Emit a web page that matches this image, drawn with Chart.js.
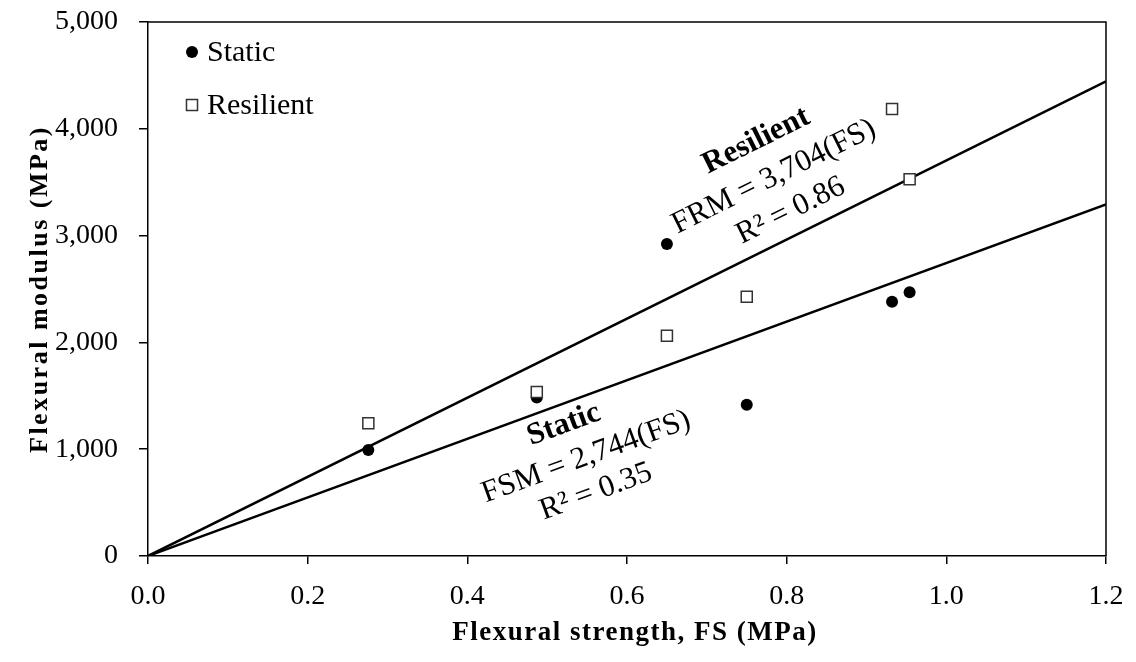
<!DOCTYPE html>
<html>
<head>
<meta charset="utf-8">
<title>Flexural modulus vs flexural strength</title>
<script src="https://cdn.jsdelivr.net/npm/chart.js@4.4.1/dist/chart.umd.min.js"></script>
<style>
    body { margin: 0; background: #fff; }
    #wrap { width: 1136px; height: 662px; }
</style>
</head>
<body>
<div id="wrap"><canvas id="flexChart" width="1136" height="662"></canvas></div>
<script>
// flexural strength of each specimen (MPa)
const strength = [0.276, 0.487, 0.650, 0.750, 0.932, 0.954];
// measured moduli (MPa)
const staticModulus = [993, 1485, 2921, 1417, 2381, 2469];
const resilientModulus = [1242, 1535, 2063, 2428, 4185, 3527];
// fitted slopes through the origin, FSM = k(FS), FRM = k(FS)
const staticSlope = 2744;
const resilientSlope = 3704;
const staticR2 = 0.35;
const resilientR2 = 0.86;
const xMax = 1.2;
const yMax = 5000;

const SERIF = "'Liberation Serif', 'Times New Roman', serif";

function toPoints(xs, ys) {
    return xs.map((x, i) => ({ x: x, y: ys[i] }));
}

function fitLine(slope) {
    return [{ x: 0, y: 0 }, { x: xMax, y: slope * xMax }];
}

const fmt = n => n.toLocaleString("en-US");

// box around the plot: the axes give left/bottom, this adds top/right
const framePlugin = {
    id: "frame",
    afterDraw(chart) {
        const { ctx, chartArea: a } = chart;
        ctx.save();
        ctx.strokeStyle = "#000";
        ctx.lineWidth = 1.5;
        ctx.beginPath();
        ctx.moveTo(a.left, a.top);
        ctx.lineTo(a.right, a.top);
        ctx.lineTo(a.right, a.bottom);
        ctx.stroke();
        ctx.restore();
    }
};

// equation labels laid along each fitted line
const equationPlugin = {
    id: "equations",
    afterDatasetsDraw(chart, args, opts) {
        const { ctx, scales: { x, y } } = chart;
        opts.blocks.forEach(b => {
            const ds = chart.data.datasets[b.dataset];
            const p0 = ds.data[0], p1 = ds.data[1];
            const angle = Math.atan2(y.getPixelForValue(p1.y) - y.getPixelForValue(p0.y),
                                     x.getPixelForValue(p1.x) - x.getPixelForValue(p0.x));
            ctx.save();
            ctx.translate(x.getPixelForValue(b.at[0]), y.getPixelForValue(b.at[1]));
            ctx.rotate(angle);
            ctx.fillStyle = "#000";
            ctx.textAlign = "center";
            ctx.textBaseline = "middle";
            b.lines.forEach(l => {
                ctx.font = (l.bold ? "bold " : "") + opts.size + "px " + SERIF;
                ctx.fillText(l.text, l.dx, l.dy);
            });
            ctx.restore();
        });
    }
};

// legend in the top-left corner of the plot
const cornerLegend = {
    id: "cornerLegend",
    afterDraw(chart, args, opts) {
        const { ctx, chartArea: a } = chart;
        opts.items.forEach((idx, i) => {
            const ds = chart.data.datasets[idx];
            const cx = a.left + opts.left;
            const cy = a.top + opts.top + i * opts.gap;
            ctx.save();
            ctx.fillStyle = ds.backgroundColor;
            ctx.strokeStyle = ds.borderColor;
            ctx.lineWidth = ds.borderWidth;
            Chart.helpers.drawPoint(ctx, { pointStyle: ds.pointStyle, radius: ds.pointRadius, borderWidth: ds.borderWidth }, cx, cy);
            ctx.fillStyle = "#000";
            ctx.font = opts.size + "px " + SERIF;
            ctx.textBaseline = "middle";
            ctx.fillText(ds.label, cx + opts.textGap, cy + 1);
            ctx.restore();
        });
    }
};

// bold, slightly spaced axis titles
const axisTitles = {
    id: "axisTitles",
    afterDraw(chart, args, opts) {
        const { ctx, chartArea: a } = chart;
        ctx.save();
        ctx.fillStyle = "#000";
        ctx.textAlign = "center";
        ctx.textBaseline = "middle";

        ctx.font = "bold " + opts.x.size + "px " + SERIF;
        ctx.letterSpacing = opts.x.spacing + "px";
        ctx.fillText(opts.x.text, (a.left + a.right) / 2 + opts.x.dx, a.bottom + opts.x.dy);

        ctx.font = "bold " + opts.y.size + "px " + SERIF;
        ctx.letterSpacing = opts.y.spacing + "px";
        ctx.translate(opts.y.left, (a.top + a.bottom) / 2);
        ctx.rotate(-Math.PI / 2);
        ctx.fillText(opts.y.text, 0, 0);
        ctx.restore();
    }
};

const ctx = document.getElementById("flexChart").getContext("2d");

new Chart(ctx, {
    type: "scatter",
    data: {
        datasets: [
            {
                label: "Static",
                data: toPoints(strength, staticModulus),
                pointStyle: "circle",
                pointRadius: 6,
                backgroundColor: "#000",
                borderColor: "#000",
                borderWidth: 0,
                order: 1
            },
            {
                label: "Resilient",
                data: toPoints(strength, resilientModulus),
                pointStyle: "rect",
                pointRadius: 7.8,
                backgroundColor: "#fff",
                borderColor: "#333",
                borderWidth: 1.5,
                order: 0
            },
            {
                label: "FSM fit",
                type: "line",
                data: fitLine(staticSlope),
                borderColor: "#000",
                borderWidth: 2.5,
                pointRadius: 0,
                fill: false,
                order: 2
            },
            {
                label: "FRM fit",
                type: "line",
                data: fitLine(resilientSlope),
                borderColor: "#000",
                borderWidth: 2.5,
                pointRadius: 0,
                fill: false,
                order: 2
            }
        ]
    },
    options: {
        responsive: false,
        animation: false,
        layout: { padding: { top: 22, right: 30, left: 0, bottom: 0 } },
        plugins: {
            legend: { display: false },
            tooltip: { enabled: false },
            cornerLegend: { items: [0, 1], left: 44, top: 30, gap: 53, textGap: 15, size: 30 },
            equations: {
                size: 31,
                blocks: [
                    {
                        dataset: 3, at: [0.784, 3551],
                        lines: [
                            { text: "Resilient", bold: true, dx: 0, dy: -40 },
                            { text: "FRM = " + fmt(resilientSlope) + "(FS)", dx: 0, dy: 0 },
                            { text: "R² = " + resilientR2.toFixed(2), dx: 0, dy: 38 }
                        ]
                    },
                    {
                        dataset: 2, at: [0.549, 927],
                        lines: [
                            { text: "Static", bold: true, dx: -10, dy: -38 },
                            { text: "FSM = " + fmt(staticSlope) + "(FS)", dx: 0, dy: 0 },
                            { text: "R² = " + staticR2.toFixed(2), dx: -3, dy: 36 }
                        ]
                    }
                ]
            },
            axisTitles: {
                x: { text: "Flexural strength, FS (MPa)", size: 27, spacing: 1.5, dx: 8, dy: 77 },
                y: { text: "Flexural modulus (MPa)", size: 26, spacing: 2.5, left: 40 }
            }
        },
        scales: {
            x: {
                type: "linear",
                min: 0,
                max: xMax,
                afterFit: s => { s.height = 106; s.paddingLeft = 0; s.paddingRight = 0; },
                grid: { drawOnChartArea: false, tickLength: 8, color: "#000", lineWidth: 1.5 },
                border: { color: "#000", width: 1.5 },
                ticks: {
                    stepSize: 0.2,
                    color: "#000",
                    padding: 16,
                    font: { family: SERIF, size: 28 },
                    callback: v => v.toFixed(1)
                }
            },
            y: {
                type: "linear",
                min: 0,
                max: yMax,
                afterFit: s => { s.width = 148; s.paddingTop = 0; s.paddingBottom = 0; },
                grid: { drawOnChartArea: false, tickLength: 9, color: "#000", lineWidth: 1.5 },
                border: { color: "#000", width: 1.5 },
                ticks: {
                    stepSize: 1000,
                    color: "#000",
                    padding: 21,
                    font: { family: SERIF, size: 28 },
                    callback: v => fmt(v)
                }
            }
        }
    },
    plugins: [framePlugin, equationPlugin, cornerLegend, axisTitles]
});
</script>
</body>
</html>
